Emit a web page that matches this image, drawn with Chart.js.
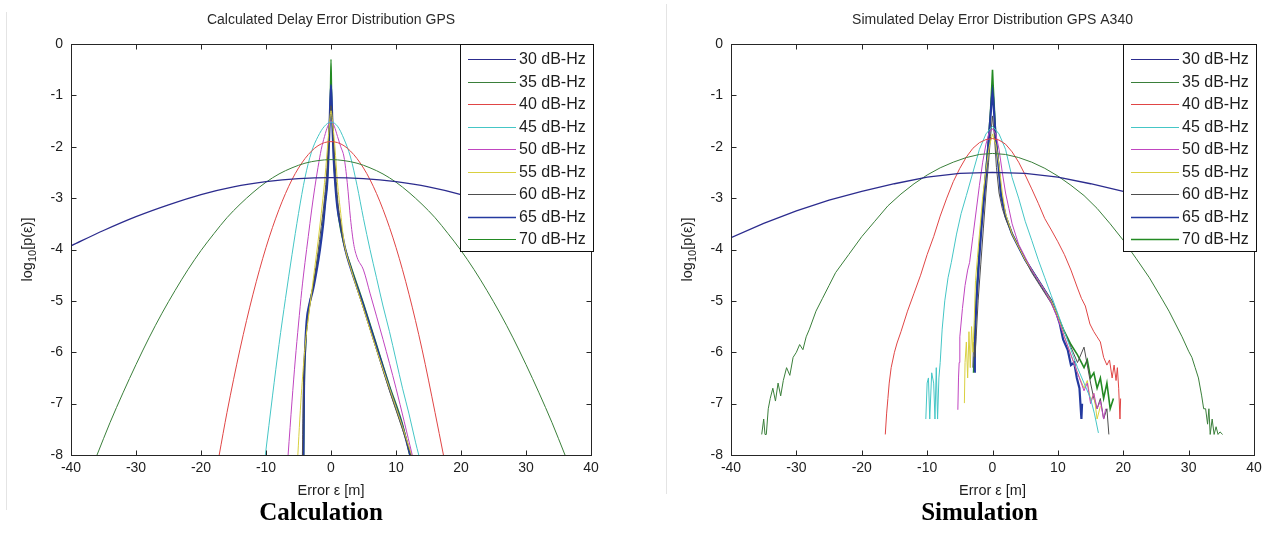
<!DOCTYPE html>
<html>
<head>
<meta charset="utf-8">
<script src="https://cdn.jsdelivr.net/npm/chart.js@4.4.0/dist/chart.umd.min.js"></script>
<style>
html,body{margin:0;padding:0;background:#fff;width:1275px;height:540px;overflow:hidden;}
.wrap{position:absolute;top:0;height:540px;}
#w1{left:0;width:650px;}
#w2{left:660px;width:615px;}
.sep{position:absolute;width:1px;background:#e4e4e4;}
</style>
</head>
<body>
<div class="sep" style="left:6px;top:12px;height:498px"></div>
<div class="sep" style="left:666px;top:4px;height:490px"></div>
<div class="wrap" id="w1"><canvas id="c1" width="650" height="540"></canvas></div>
<div class="wrap" id="w2"><canvas id="c2" width="615" height="540"></canvas></div>
<script>
// ---------- labels / ticks ----------
const seriesLabels = ["30 dB-Hz","35 dB-Hz","40 dB-Hz","45 dB-Hz","50 dB-Hz","55 dB-Hz","60 dB-Hz","65 dB-Hz","70 dB-Hz"];
const xTickValues = [-40,-30,-20,-10,0,10,20,30,40];
const yTickValues = [-8,-7,-6,-5,-4,-3,-2,-1,0];

// ---------- Calculation (left) ----------
const calc30X = [-40,-35,-30,-25,-20,-15,-10,-5,0,5,10,15,20,25,30,35,40];
const calc30Y = [-3.93,-3.63,-3.36,-3.13,-2.93,-2.78,-2.68,-2.62,-2.60,-2.62,-2.68,-2.78,-2.93,-3.13,-3.36,-3.63,-3.93];
const calc35X = [-36,-34,-32,-30,-28,-26,-24,-22,-20,-18,-16,-14,-12,-10,-8,-6,-4,-2,0,2,4,6,8,10,12,14,16,18,20,22,24,26,28,30,32,34,36];
const calc35Y = [-8.0,-7.37,-6.79,-6.24,-5.72,-5.24,-4.80,-4.39,-4.02,-3.69,-3.38,-3.12,-2.89,-2.69,-2.53,-2.41,-2.32,-2.27,-2.25,-2.27,-2.32,-2.41,-2.53,-2.69,-2.89,-3.12,-3.38,-3.69,-4.02,-4.39,-4.80,-5.24,-5.72,-6.24,-6.79,-7.37,-8.0];
const calc40X = [-17.2,-16,-14,-12,-10,-8,-6,-4,-2,0,2,4,6,8,10,12,14,16,17.3];
const calc40Y = [-8.0,-7.17,-5.94,-4.87,-3.96,-3.22,-2.64,-2.23,-1.98,-1.9,-1.98,-2.23,-2.64,-3.22,-3.96,-4.87,-5.94,-7.17,-8.0];
const calc45X = [-10.1,-9,-8,-7,-6,-5,-4,-3,-2,-1,0,1,2,3,4,5,6,7,8,9,10,11,12,13,13.5];
const calc45Y = [-8.0,-6.85,-5.85,-4.95,-4.1,-3.3,-2.6,-2.1,-1.8,-1.6,-1.52,-1.6,-1.85,-2.2,-2.75,-3.4,-4.0,-4.55,-5.1,-5.6,-6.15,-6.7,-7.2,-7.75,-8.0];
const calc50X = [-6.6,-6,-5.5,-5,-4.5,-4,-3.5,-3,-2.5,-2,-1.5,-1,-0.5,0,0.5,1,1.5,2,2.5,3,3.5,4,5,6,8,10,12.5];
const calc50Y = [-8.0,-6.95,-6.15,-5.45,-4.8,-4.25,-3.75,-3.25,-2.8,-2.4,-2.05,-1.8,-1.6,-1.5,-1.6,-1.8,-2.0,-2.2,-2.7,-3.4,-3.9,-4.15,-4.4,-4.85,-5.75,-6.7,-8.0];
const calc55X = [-5.1,-4.8,-4.5,-4,-3.5,-3,-2.5,-2,-1.5,-1,-0.6,-0.3,0,0.3,0.6,1,1.5,2,3,5,7,9,11,12.4];
const calc55Y = [-8.0,-7.3,-6.7,-5.9,-5.35,-4.85,-4.35,-3.85,-3.3,-2.7,-2.1,-1.65,-1.3,-1.6,-2.0,-2.7,-3.3,-3.85,-4.35,-5.15,-5.95,-6.7,-7.45,-8.0];
const calc60X = [-4.4,-4.2,-3.9,-3.5,-3,-2.5,-2,-1.5,-1,-0.6,-0.3,0,0.3,0.6,1,1.5,2,3,5,7,9,11,12.3];
const calc60Y = [-8.0,-6.5,-5.8,-5.3,-4.9,-4.5,-4.05,-3.55,-3.0,-2.4,-1.7,-1.2,-1.7,-2.3,-3.0,-3.5,-3.9,-4.35,-5.15,-5.95,-6.75,-7.5,-8.0];
const calc65X = [-4.25,-4.15,-4.0,-3.75,-3.3,-2.8,-2.2,-1.7,-1.2,-0.9,-0.55,-0.4,-0.2,0,0.2,0.4,0.7,1,1.5,2.2,3,5,7,9,11,12.2];
const calc65Y = [-8.0,-6.6,-6.0,-5.4,-5.05,-4.8,-4.4,-4.0,-3.5,-3.1,-2.65,-2.2,-1.5,-0.8,-1.5,-2.2,-2.8,-3.2,-3.55,-4.0,-4.35,-5.1,-5.9,-6.7,-7.45,-8.0];
const calc70X = [-4.2,-4.1,-3.95,-3.7,-3.3,-2.8,-2.2,-1.7,-1.2,-0.9,-0.55,-0.3,-0.1,0,0.1,0.3,0.5,0.8,1.2,2,3,5,7,9,11,12.1];
const calc70Y = [-8.0,-6.6,-6.0,-5.4,-5.05,-4.75,-4.35,-3.95,-3.45,-3.1,-2.6,-1.8,-1.0,-0.3,-1.0,-1.8,-2.4,-2.9,-3.4,-3.9,-4.3,-5.05,-5.85,-6.65,-7.4,-8.0];

// ---------- Simulation (right) ----------
const sim30X = [-40,-35,-30,-25,-20,-15,-10,-5,0,5,10,15,20,25,30,35,40];
const sim30Y = [-3.77,-3.49,-3.25,-3.04,-2.87,-2.72,-2.59,-2.52,-2.50,-2.52,-2.59,-2.72,-2.87,-3.04,-3.25,-3.49,-3.77];
const sim35X = [-35.3,-35.0,-34.8,-34.6,-34.3,-34.0,-33.6,-33.2,-32.8,-32.4,-32.0,-31.5,-31.0,-30.5,-30.0,-29.5,-29.0,-28.5,-28.0,-27,-26,-25,-24,-22,-20,-18,-16,-14,-12,-10,-8,-6,-4,-2,0,2,4,6,8,10,12,14,16,18,20,22,24,26,27,28,29,30,30.5,31,31.5,32,32.3,32.6,32.9,33.1,33.3,33.6,33.9,34.2,34.5,34.8,35.2];
const sim35Y = [-7.6,-7.3,-7.6,-7.6,-7.1,-6.9,-6.7,-6.95,-6.6,-6.85,-6.55,-6.3,-6.45,-6.1,-6.0,-5.85,-5.95,-5.7,-5.55,-5.2,-4.95,-4.7,-4.45,-4.1,-3.75,-3.45,-3.15,-2.92,-2.72,-2.55,-2.41,-2.3,-2.21,-2.15,-2.13,-2.15,-2.21,-2.3,-2.42,-2.57,-2.75,-2.95,-3.2,-3.5,-3.82,-4.18,-4.55,-4.98,-5.2,-5.45,-5.7,-5.98,-6.1,-6.3,-6.5,-6.85,-7.1,-7.1,-7.4,-7.1,-7.6,-7.3,-7.6,-7.45,-7.6,-7.55,-7.6];
const sim40X = [-16.4,-16.2,-16.0,-15.8,-15.5,-15.0,-14.6,-14.0,-13,-12,-11,-10,-9,-8,-7,-6,-5,-4,-3,-2,-1,0,1,2,3,4,5,6,7,8,9,10,11,12,13,13.6,14.2,14.9,15.5,16.0,16.5,17.0,17.5,17.9,18.3,18.6,18.9,19.1,19.3,19.5,19.6];
const sim40Y = [-7.6,-7.2,-6.9,-6.6,-6.3,-6.0,-5.82,-5.6,-5.2,-4.85,-4.5,-4.1,-3.75,-3.35,-3.0,-2.68,-2.42,-2.2,-2.03,-1.92,-1.86,-1.84,-1.87,-1.95,-2.1,-2.3,-2.55,-2.82,-3.1,-3.4,-3.62,-3.85,-4.1,-4.4,-4.75,-4.95,-5.1,-5.45,-5.6,-5.7,-5.8,-6.1,-6.25,-6.15,-6.5,-6.25,-6.55,-6.3,-6.7,-7.3,-6.9];
const sim45X = [-10.2,-10.0,-9.8,-9.6,-9.3,-9.0,-8.8,-8.6,-8.4,-8.2,-8.0,-7.7,-7.3,-6.8,-6.3,-5.5,-4.8,-4.0,-3,-2,-1,0,1,2,3,4,5,6,7,8,9,10,11,12,13,14,15,15.6,16.2];
const sim45Y = [-7.3,-6.6,-6.5,-7.3,-6.4,-6.6,-7.3,-6.3,-7.3,-6.5,-6.2,-5.55,-5.0,-4.55,-4.25,-3.7,-3.3,-2.95,-2.5,-2.05,-1.75,-1.6,-1.75,-2.05,-2.6,-3.0,-3.45,-3.82,-4.2,-4.55,-4.9,-5.25,-5.6,-5.95,-6.3,-6.6,-6.9,-7.2,-7.57];
const sim50X = [-5.3,-5.2,-5.1,-5.0,-4.6,-4.2,-3.8,-3.5,-3.0,-2.5,-2.0,-1.5,-1.0,-0.5,0,0.5,1,1.5,2,2.5,3,3.5,4,5,6,7,8,9,10,11,12,13,14,14.5,15,15.5,16,16.5,17,17.3];
const sim50Y = [-7.12,-6.5,-6.2,-5.7,-5.15,-4.7,-4.4,-4.25,-3.75,-3.25,-2.75,-2.3,-1.95,-1.72,-1.65,-1.75,-2.05,-2.5,-2.9,-3.2,-3.5,-3.7,-3.9,-4.15,-4.4,-4.6,-4.8,-5.05,-5.35,-5.7,-6.05,-6.4,-6.75,-6.6,-7.0,-6.8,-7.1,-6.95,-7.3,-7.1];
const sim55X = [-4.3,-4.2,-4.0,-3.8,-3.6,-3.4,-3.2,-3.0,-2.8,-2.6,-2.3,-2.0,-1.5,-1.0,-0.5,0,0.5,1.0,1.5,2,3,4,5,6,7,8,9,10,11,12,13,14,14.5,15,15.5,16,16.5];
const sim55Y = [-6.99,-6.2,-5.8,-6.5,-5.6,-6.3,-5.5,-6.0,-5.4,-4.6,-4.15,-3.7,-2.97,-2.45,-2.0,-1.75,-1.95,-2.35,-2.9,-3.3,-3.7,-3.95,-4.2,-4.4,-4.6,-4.8,-5.0,-5.3,-5.7,-6.05,-6.4,-6.7,-6.55,-6.95,-6.8,-7.3,-7.05];
const sim60X = [-3.0,-2.9,-2.7,-2.5,-2.2,-1.8,-1.4,-1.0,-0.6,-0.3,0,0.3,0.6,1.0,1.5,2,3,4,5,6,7,8,9,10,11,12,13,14,15,15.5,16,16.5,17,17.5,17.8];
const sim60Y = [-6.3,-5.8,-6.1,-5.7,-5.0,-4.3,-3.6,-2.9,-2.3,-1.8,-1.4,-1.8,-2.4,-2.9,-3.2,-3.4,-3.7,-3.95,-4.2,-4.45,-4.65,-4.85,-5.05,-5.3,-5.6,-5.9,-6.2,-5.9,-6.6,-6.9,-7.1,-6.9,-7.3,-7.1,-7.6];
const sim65X = [-2.8,-2.7,-2.6,-2.4,-2.1,-1.7,-1.3,-0.9,-0.6,-0.3,-0.1,0,0.1,0.3,0.5,0.9,1.3,2,3,4,5,6,7,8,9,9.8,10.3,10.8,11.5,12,12.5,12.9,13.3,13.6,13.7];
const sim65Y = [-6.38,-6.0,-5.4,-4.9,-4.3,-3.6,-3.0,-2.4,-1.9,-1.4,-1.05,-0.95,-1.05,-1.45,-1.85,-2.35,-2.95,-3.35,-3.7,-3.95,-4.2,-4.4,-4.6,-4.8,-5.0,-5.25,-5.45,-5.75,-5.95,-6.25,-6.2,-6.5,-6.7,-7.3,-7.0];
const sim70X = [-2.9,-2.8,-2.7,-2.5,-2.2,-1.8,-1.4,-1.0,-0.6,-0.3,-0.1,0,0.1,0.3,0.5,0.9,1.3,2,3,4,5,6,7,8,9,10,11,12,13,14,14.5,15,15.5,16,16.5,17,17.5,18,18.5];
const sim70Y = [-6.4,-6.1,-5.6,-5.0,-4.35,-3.65,-3.05,-2.45,-1.85,-1.3,-0.8,-0.5,-0.8,-1.3,-1.8,-2.3,-2.9,-3.35,-3.7,-3.95,-4.2,-4.4,-4.6,-4.8,-5.0,-5.3,-5.6,-5.85,-6.05,-6.3,-6.15,-6.5,-6.4,-6.7,-6.5,-6.9,-6.6,-7.1,-6.9];

// ---------- styles ----------
const seriesColors = ["#2c2c8e","#3a7f3a","#e04545","#45c6c6","#c045c0","#d9d040","#4e4e4e","#243aa0","#238a23"];
const calcWidths = [1.3,1,1,1,1,1,1,2.2,1.4];
const simWidths  = [1.3,1,1,1,1,1,1,2.2,1.6];
const FONT = "'Liberation Sans', Arial, Helvetica, sans-serif";
const TXT = "#1e1e1e";

function toPts(xs, ys){ return xs.map((x,i)=>({x:x, y:ys[i]})); }

function makeSets(pairs, widths, smooth){
  return pairs.map((p,i)=>({
    label: seriesLabels[i],
    data: toPts(p[0], p[1]),
    showLine: true,
    borderColor: seriesColors[i],
    backgroundColor: seriesColors[i],
    borderWidth: widths[i],
    pointRadius: 0,
    fill: false,
    cubicInterpolationMode: smooth ? 'monotone' : 'default',
    tension: 0
  }));
}

const deco = {
  id: 'deco',
  afterDatasetsDraw(chart, args, opts){
    const ctx = chart.ctx, a = chart.chartArea, xs = chart.scales.x, ys = chart.scales.y;
    ctx.save();
    // axes box
    const L = Math.round(a.left)+0.5, T = Math.round(a.top)+0.5, R = Math.round(a.right)+0.5, B = Math.round(a.bottom)+0.5;
    ctx.strokeStyle = '#262626'; ctx.lineWidth = 1;
    ctx.strokeRect(L, T, R-L, B-T);
    // inward ticks on all four sides
    const tl = 5;
    ctx.beginPath();
    xTickValues.forEach(v=>{
      const px = Math.round(xs.getPixelForValue(v))+0.5;
      ctx.moveTo(px,B); ctx.lineTo(px,B-tl);
      ctx.moveTo(px,T); ctx.lineTo(px,T+tl);
    });
    yTickValues.forEach(v=>{
      const py = Math.round(ys.getPixelForValue(v))+0.5;
      ctx.moveTo(L,py); ctx.lineTo(L+tl,py);
      ctx.moveTo(R,py); ctx.lineTo(R-tl,py);
    });
    ctx.stroke();
    // legend box (inside, top-right)
    const lx1 = Math.round(a.right)+2, lx0 = lx1-133, ly0 = Math.round(a.top), ly1 = ly0+207;
    ctx.fillStyle = '#fff';
    ctx.fillRect(lx0, ly0, lx1-lx0, ly1-ly0);
    ctx.strokeStyle = '#111';
    ctx.strokeRect(lx0+0.5, ly0+0.5, lx1-lx0, ly1-ly0);
    ctx.font = "16px " + FONT;
    ctx.textBaseline = 'middle'; ctx.textAlign = 'left';
    chart.data.datasets.forEach((ds,i)=>{
      const yy = Math.round(ly0 + 15 + i*22.5)+0.5;
      ctx.strokeStyle = ds.borderColor;
      ctx.lineWidth = ds.borderWidth > 1.5 ? 1.6 : 1;
      ctx.beginPath(); ctx.moveTo(lx0+8, yy); ctx.lineTo(lx0+56, yy); ctx.stroke();
      ctx.fillStyle = TXT;
      ctx.fillText(ds.label, lx0+59, yy+0.5);
    });
    // title
    const cx = (a.left+a.right)/2;
    ctx.fillStyle = '#2a2a2a';
    ctx.textAlign = 'center'; ctx.textBaseline = 'middle';
    ctx.font = "14px " + FONT;
    ctx.fillText(opts.title, cx, 20);
    // x axis title
    ctx.font = "14.5px " + FONT;
    ctx.fillStyle = TXT;
    ctx.fillText("Error \u03b5 [m]", cx, 491);
    // y axis title with subscript, rotated
    const cy = (a.top+a.bottom)/2;
    ctx.save();
    ctx.translate(a.left-43, cy);
    ctx.rotate(-Math.PI/2);
    const f1 = "14.5px " + FONT, f2 = "11px " + FONT;
    ctx.font = f1; const w1 = ctx.measureText("log").width, w3 = ctx.measureText("[p(\u03b5)]").width;
    ctx.font = f2; const w2 = ctx.measureText("10").width;
    let sx = -(w1+w2+w3)/2;
    ctx.textAlign = 'left';
    ctx.font = f1; ctx.fillText("log", sx, 0); sx += w1;
    ctx.font = f2; ctx.fillText("10", sx, 5); sx += w2;
    ctx.font = f1; ctx.fillText("[p(\u03b5)]", sx, 0);
    ctx.restore();
    // caption
    ctx.font = "bold 25px 'Liberation Serif', 'Times New Roman', serif";
    ctx.fillStyle = '#000';
    ctx.textAlign = 'center';
    ctx.fillText(opts.caption, cx + opts.capShift, 514);
    ctx.restore();
  }
};

function buildChart(id, sets, title, caption, capShift, padRight){
  return new Chart(document.getElementById(id), {
    type: 'scatter',
    data: { datasets: sets },
    options: {
      responsive: false,
      animation: false,
      devicePixelRatio: 1,
      layout: { padding: { top: 44, right: padRight, bottom: 0, left: 0 } },
      plugins: {
        legend: { display: false },
        tooltip: { enabled: false },
        deco: { title: title, caption: caption, capShift: capShift }
      },
      scales: {
        x: {
          type: 'linear', min: -40, max: 40,
          afterFit: s => { s.height = 85; },
          grid: { display: false, drawTicks: false },
          border: { display: false },
          afterBuildTicks: s => { s.ticks = xTickValues.map(v=>({value:v})); },
          ticks: { autoSkip: false, maxRotation: 0, padding: 5, color: TXT,
                   font: { family: FONT, size: 14 }, callback: v => String(v) }
        },
        y: {
          type: 'linear', min: -8, max: 0,
          afterFit: s => { s.width = 71; },
          grid: { display: false, drawTicks: false },
          border: { display: false },
          afterBuildTicks: s => { s.ticks = yTickValues.map(v=>({value:v})); },
          ticks: { autoSkip: false, padding: 8, color: TXT,
                   font: { family: FONT, size: 14 }, callback: v => String(v) }
        }
      }
    },
    plugins: [deco]
  });
}

const calcPairs = [[calc30X,calc30Y],[calc35X,calc35Y],[calc40X,calc40Y],[calc45X,calc45Y],[calc50X,calc50Y],[calc55X,calc55Y],[calc60X,calc60Y],[calc65X,calc65Y],[calc70X,calc70Y]];
const simPairs  = [[sim30X,sim30Y],[sim35X,sim35Y],[sim40X,sim40Y],[sim45X,sim45Y],[sim50X,sim50Y],[sim55X,sim55Y],[sim60X,sim60Y],[sim65X,sim65Y],[sim70X,sim70Y]];

buildChart('c1', makeSets(calcPairs, calcWidths, true), "Calculated Delay Error Distribution GPS", "Calculation", -10, 59);
buildChart('c2', makeSets(simPairs, simWidths, false), "Simulated Delay Error Distribution GPS A340", "Simulation", -13, 21);
</script>
</body>
</html>
